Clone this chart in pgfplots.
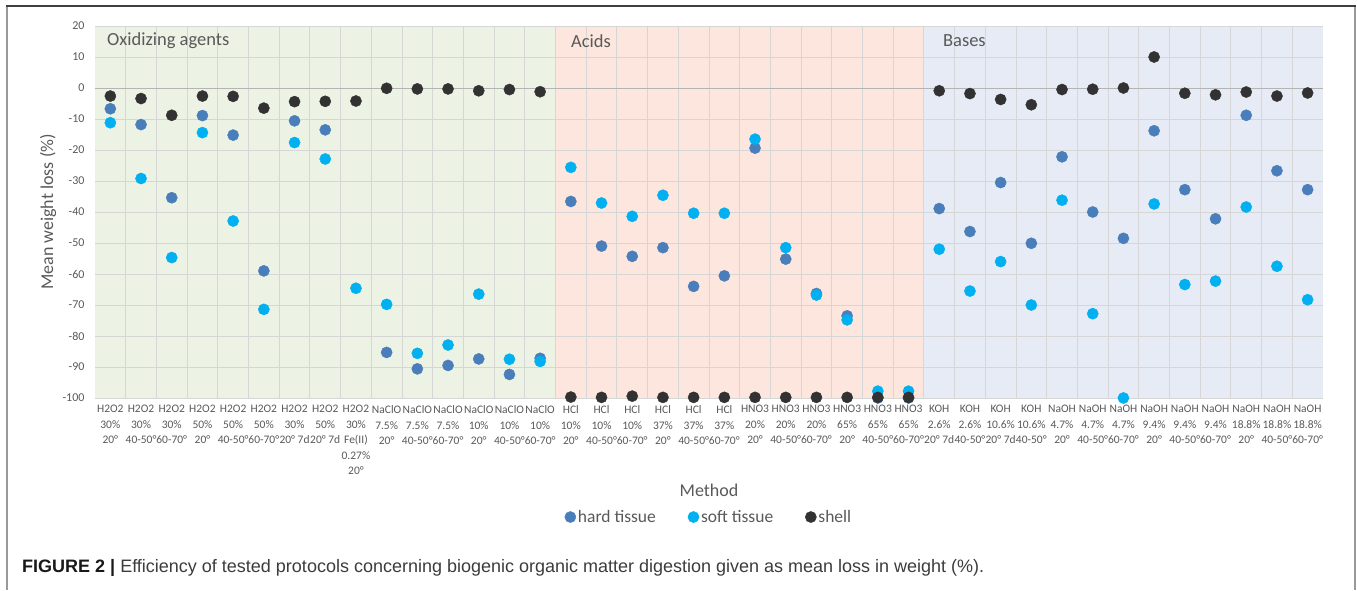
\documentclass[border=0pt]{standalone}
\usepackage{fontspec}
\setmainfont{Carlito}
\newfontfamily\arialfont{Liberation Sans}
\usepackage{pgfplots}
\pgfplotsset{compat=1.18}
\definecolor{hardc}{RGB}{74,126,187}
\definecolor{softc}{RGB}{0,176,240}
\definecolor{shellc}{RGB}{50,50,50}
\definecolor{greenbg}{RGB}{236,243,228}
\definecolor{pinkbg}{RGB}{252,230,222}
\definecolor{bluebg}{RGB}{230,235,246}
\definecolor{gridc}{RGB}{214,214,214}
\definecolor{zeroc}{RGB}{180,180,180}
\definecolor{txt}{RGB}{89,89,89}
\definecolor{capc}{RGB}{60,60,60}
\begin{document}
\begin{tikzpicture}[x=1pt,y=1pt]
\path (0,0) rectangle (1357,590);
\draw[line width=1.2pt, color=gray!80] (7,0) -- (7,584);
\draw[line width=1.2pt, color=gray!80] (1355,0) -- (1355,584);
\draw[line width=1.6pt, color=black!75] (6.4,584) -- (1355.6,584);
\begin{axis}[
  set layers,
  at={(95pt,192pt)}, anchor=south west,
  scale only axis, width=1228pt, height=372pt,
  xmin=-0.5, xmax=39.5, ymin=-100, ymax=20,
  clip=false,
  axis line style={draw=none},
  major tick length=0pt, minor tick length=0pt,
  xtick={0,...,39},
  xticklabels={
    {H2O2\\30\%\\20°},{H2O2\\30\%\\40-50°},{H2O2\\30\%\\60-70°},
    {H2O2\\50\%\\20°},{H2O2\\50\%\\40-50°},{H2O2\\50\%\\60-70°},
    {H2O2\\30\%\\20° 7d},{H2O2\\50\%\\20° 7d},{H2O2\\30\%\\Fe(II)\\0.27\%\\20°},
    {NaClO\\7.5\%\\20°},{NaClO\\7.5\%\\40-50°},{NaClO\\7.5\%\\60-70°},
    {NaClO\\10\%\\20°},{NaClO\\10\%\\40-50°},{NaClO\\10\%\\60-70°},
    {HCl\\10\%\\20°},{HCl\\10\%\\40-50°},{HCl\\10\%\\60-70°},
    {HCl\\37\%\\20°},{HCl\\37\%\\40-50°},{HCl\\37\%\\60-70°},
    {HNO3\\20\%\\20°},{HNO3\\20\%\\40-50°},{HNO3\\20\%\\60-70°},
    {HNO3\\65\%\\20°},{HNO3\\65\%\\40-50°},{HNO3\\65\%\\60-70°},
    {KOH\\2.6\%\\20° 7d},{KOH\\2.6\%\\40-50°},{KOH\\10.6\%\\20° 7d},{KOH\\10.6\%\\40-50°},
    {NaOH\\4.7\%\\20°},{NaOH\\4.7\%\\40-50°},{NaOH\\4.7\%\\60-70°},
    {NaOH\\9.4\%\\20°},{NaOH\\9.4\%\\40-50°},{NaOH\\9.4\%\\60-70°},
    {NaOH\\18.8\%\\20°},{NaOH\\18.8\%\\40-50°},{NaOH\\18.8\%\\60-70°}},
  xticklabel style={align=center, font=\fontsize{11.5}{15.5}\selectfont, text=txt, yshift=-4pt, inner xsep=0pt},
  minor xtick={0.5,1.5,...,38.5},
  xminorgrids=true, ymajorgrids=true, xmajorgrids=false,
  ytick={-100,-90,...,20},
  yticklabel style={font=\fontsize{12}{14}\selectfont, text=txt, xshift=-7pt},
  /pgf/number format/assume math mode=true,
  major grid style={draw=gridc, line width=0.8pt},
  minor grid style={draw=gridc, line width=0.8pt},
  xlabel={Method},
  xlabel style={at={(axis description cs:0.5,-0.247)}, anchor=center, font=\fontsize{18}{20}\selectfont, text=txt},
  ylabel={Mean weight loss (\%)},
  ylabel style={at={(axis description cs:-0.0383,0.5)}, anchor=center, rotate=0, font=\fontsize{18}{20}\selectfont, text=txt},
  legend columns=3,
  legend style={at={(axis description cs:0.5,-0.32)}, anchor=center, draw=none, fill=none,
    font=\fontsize{17.5}{20}\selectfont, text=txt,
    /tikz/every even column/.append style={column sep=30pt}},
  legend cell align=left,
]
\begin{pgfonlayer}{axis background}
\fill[greenbg] (axis cs:-0.5,-100) rectangle (axis cs:14.5,20);
\fill[pinkbg] (axis cs:14.5,-100) rectangle (axis cs:26.5,20);
\fill[bluebg] (axis cs:26.5,-100) rectangle (axis cs:39.5,20);
\end{pgfonlayer}
\draw[zeroc, line width=0.9pt] (axis cs:-0.5,0) -- (axis cs:39.5,0);
\addplot[only marks, mark=*, mark size=5.6pt, color=hardc, mark options={draw=none, fill=hardc}] coordinates {
(0,-6.7)(1,-11.8)(2,-35.4)(3,-8.9)(4,-15.2)(5,-59.0)(6,-10.6)(7,-13.5)
(9,-85.3)(10,-90.6)(11,-89.5)(12,-87.4)(13,-92.4)(14,-87.2)
(15,-36.6)(16,-51.0)(17,-54.3)(18,-51.5)(19,-64.0)(20,-60.6)(21,-19.4)(22,-55.2)(23,-66.3)(24,-73.5)(25,-100)(26,-100)
(27,-38.9)(28,-46.3)(29,-30.5)(30,-50.1)(31,-22.2)(32,-40.0)(33,-48.5)(34,-13.8)(35,-32.8)(36,-42.2)(37,-8.8)(38,-26.7)(39,-32.8)};
\addlegendentry{hard tissue}
\addplot[only marks, mark=*, mark size=5.6pt, color=softc, mark options={draw=none, fill=softc}] coordinates {
(0,-11.2)(1,-29.2)(2,-54.7)(3,-14.4)(4,-42.9)(5,-71.4)(6,-17.6)(7,-22.9)(8,-64.6)
(9,-69.8)(10,-85.6)(11,-82.9)(12,-66.5)(13,-87.5)(14,-88.2)
(15,-25.6)(16,-37.1)(17,-41.4)(18,-34.6)(19,-40.4)(20,-40.4)(21,-16.5)(22,-51.5)(23,-66.8)(24,-74.8)(25,-97.8)(26,-97.8)
(27,-52.0)(28,-65.5)(29,-56.0)(30,-70.0)(31,-36.2)(32,-72.8)(33,-100)(34,-37.4)(35,-63.4)(36,-62.3)(37,-38.4)(38,-57.5)(39,-68.3)};
\addlegendentry{soft tissue}
\addplot[only marks, mark=*, mark size=5.6pt, color=shellc, mark options={draw=none, fill=shellc}] coordinates {
(0,-2.6)(1,-3.4)(2,-8.8)(3,-2.6)(4,-2.7)(5,-6.5)(6,-4.4)(7,-4.3)(8,-4.2)
(9,-0.1)(10,-0.3)(11,-0.3)(12,-0.9)(13,-0.5)(14,-1.2)
(15,-99.7)(16,-99.8)(17,-99.4)(18,-99.8)(19,-99.8)(20,-99.8)(21,-99.8)(22,-99.8)(23,-99.8)(24,-99.8)(25,-99.8)(26,-99.8)
(27,-0.9)(28,-1.8)(29,-3.7)(30,-5.4)(31,-0.5)(32,-0.4)(33,0.0)(34,10.0)(35,-1.7)(36,-2.2)(37,-1.3)(38,-2.6)(39,-1.6)};
\addlegendentry{shell}
\node[anchor=west, inner sep=0pt, text=txt, font=\fontsize{18.5}{20}\selectfont] at (axis cs:-0.11,15.2) {Oxidizing agents};
\node[anchor=west, inner sep=0pt, text=txt, font=\fontsize{18.5}{20}\selectfont] at (axis cs:15.0,15.2) {Acids};
\node[anchor=west, inner sep=0pt, text=txt, font=\fontsize{18.5}{20}\selectfont] at (axis cs:27.12,15.2) {Bases};
\end{axis}
\node[anchor=west, inner sep=0pt, text=capc, font=\arialfont\fontsize{18}{20}\selectfont] at (22,22) {\textcolor{black!90}{\textbf{FIGURE 2 |}} Efficiency of tested protocols concerning biogenic organic matter digestion given as mean loss in weight (\%).};
\end{tikzpicture}
\end{document}
